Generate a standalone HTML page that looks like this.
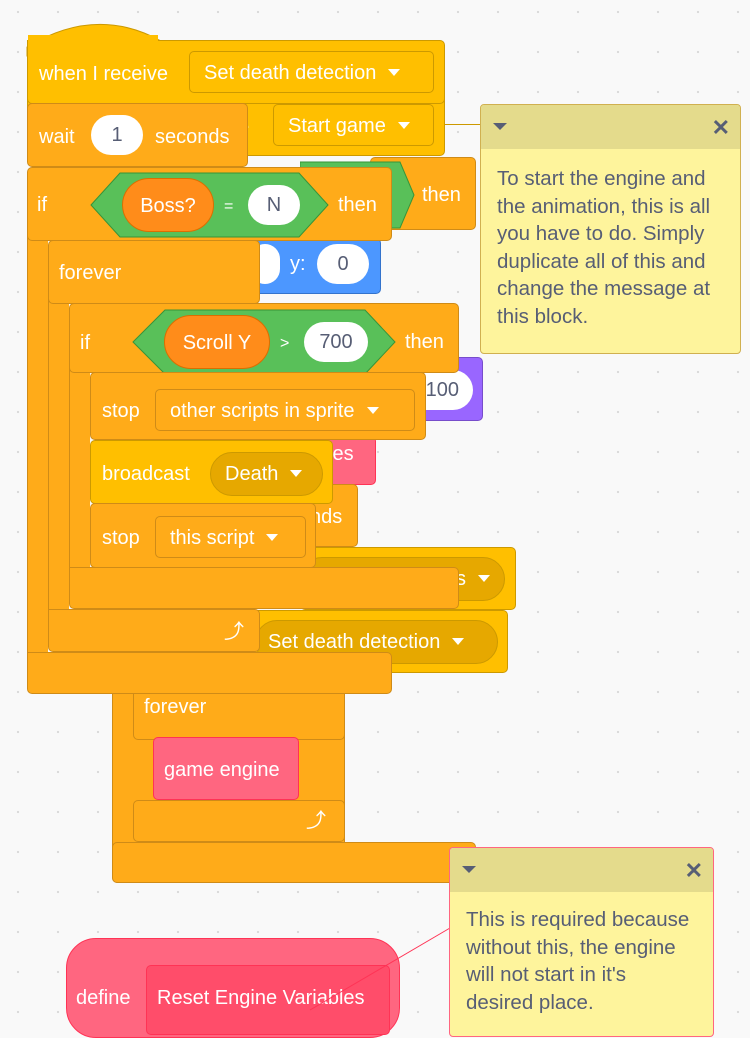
<!DOCTYPE html>
<html><head><meta charset="utf-8"><style>
body{margin:0;width:750px;height:1025px;overflow:hidden;background:#f9f9f9;
background-image:radial-gradient(circle,#d9d9d9 1px,transparent 1.3px);background-size:40px 40px;background-position:-2px -8px;
font-family:"Liberation Sans",sans-serif;position:relative}
.b{position:absolute;box-sizing:border-box;border:1px solid;border-radius:5px}
.c{background:#ffab19;border-color:#cf8b17}
.e{background:#ffbf00;border-color:#cc9900}
.p{background:#ff6680;border-color:#ff3355}
.t{position:absolute;color:#fff;font-size:20px;white-space:nowrap;line-height:22px}
.w{position:absolute;box-sizing:border-box;background:#fff;border-radius:20px;color:#575e75;font-size:20px;text-align:center;line-height:40px;height:40px}
.dd{position:absolute;box-sizing:border-box;border:1px solid;border-radius:5px;color:#fff;font-size:20px;white-space:nowrap;padding-left:14px;line-height:42px;height:42px}
.ar{display:inline-block;width:0;height:0;border-left:6px solid transparent;border-right:6px solid transparent;border-top:7px solid #fff;margin-left:12px;vertical-align:3px}
.hex{position:absolute}
.note{position:absolute;box-sizing:border-box;border:1px solid #d0b050;border-radius:4px;background:#fef49c;color:#575e75;font-size:20.5px;line-height:27.5px;white-space:nowrap;overflow:hidden}
.nh{height:44px;background:#e4db8c;position:relative}
</style></head><body>

<div class="b e" style="left:27px;top:92px;width:418px;height:64px"></div>
<div class="t" style="left:238px;top:116px">e</div>
<div class="dd" style="left:273px;top:104px;width:161px;background:#ffbf00;border-color:#cc9900">Start game<span class="ar"></span></div>
<div class="b c" style="left:370px;top:157px;width:106px;height:73px"></div>
<svg class="hex" style="left:300px;top:160px" width="115" height="70"><polygon points="0,2 100,2 114,35 100,68 0,68" fill="#59c059" stroke="#389438"/></svg>
<div class="t" style="left:422px;top:184px">then</div>
<div class="b" style="left:240px;top:238px;width:141px;height:56px;background:#4c97ff;border-color:#3373cc"></div>
<div class="w" style="left:250px;top:244px;width:30px"></div>
<div class="t" style="left:290px;top:253px">y:</div>
<div class="w" style="left:317px;top:244px;width:52px">0</div>
<div class="b" style="left:400px;top:357px;width:83px;height:64px;background:#9966ff;border-color:#774dcb"></div>
<div class="w" style="left:405px;top:370px;width:68px;text-align:right;padding-right:14px">100</div>
<div class="b p" style="left:300px;top:436px;width:76px;height:49px"></div>
<div class="t" style="left:328px;top:443px">les</div>
<div class="b c" style="left:290px;top:484px;width:68px;height:63px"></div>
<div class="t" style="left:310px;top:506px">nds</div>
<div class="b e" style="left:300px;top:547px;width:216px;height:63px"></div>
<div class="dd" style="left:300px;top:557px;width:205px;height:44px;border-radius:22px;background:#e6a800;border-color:#cc9900;text-align:right;padding-right:14px">s<span class="ar"></span></div>
<div class="b e" style="left:250px;top:610px;width:258px;height:63px"></div>
<div class="dd" style="left:255px;top:620px;width:243px;height:44px;border-radius:22px;background:#e6a800;border-color:#cc9900;padding-left:12px">Set death detection<span class="ar"></span></div>

<div class="b c" style="left:112px;top:680px;width:233px;height:203px;border-radius:6px"></div>
<div class="b c" style="left:133px;top:680px;width:212px;height:60px"></div>
<div class="t" style="left:144px;top:696px">forever</div>
<div class="b c" style="left:133px;top:800px;width:212px;height:42px"></div>
<div class="t" style="left:306px;top:810px">⤴</div>
<div class="b c" style="left:112px;top:842px;width:364px;height:41px"></div>
<div class="b p" style="left:153px;top:737px;width:146px;height:63px"></div>
<div class="t" style="left:164px;top:759px">game engine</div>

<svg style="position:absolute;left:26px;top:17px" width="140" height="40"><path d="M1,39 L1,30 Q70,-12 135,24 L139,39 Z" fill="#ffbf00" stroke="#cc9900"/></svg>
<div class="b e" style="left:27px;top:40px;width:418px;height:64px;border-top-left-radius:0"></div>
<div style="position:absolute;left:28px;top:35px;width:130px;height:10px;background:#ffbf00"></div>
<div class="t" style="left:39px;top:63px">when I receive</div>
<div class="dd" style="left:189px;top:51px;width:245px;background:#ffbf00;border-color:#cc9900">Set death detection<span class="ar"></span></div>

<div class="c" style="position:absolute;left:27px;top:230px;width:21px;height:430px;border-left:1px solid #cf8b17;box-sizing:border-box"></div>
<div class="b c" style="left:27px;top:652px;width:365px;height:42px;border-top-left-radius:0"></div>
<div class="c" style="position:absolute;left:48px;top:295px;width:21px;height:322px;border-left:1px solid #cf8b17;box-sizing:border-box"></div>
<div class="b c" style="left:48px;top:609px;width:212px;height:43px;border-top-left-radius:0"></div>
<div class="t" style="left:224px;top:621px">⤴</div>
<div class="c" style="position:absolute;left:69px;top:365px;width:21px;height:210px;border-left:1px solid #cf8b17;box-sizing:border-box"></div>
<div class="b c" style="left:69px;top:567px;width:390px;height:42px;border-top-left-radius:0"></div>

<div class="b c" style="left:27px;top:167px;width:365px;height:74px"></div>
<div class="b c" style="left:27px;top:103px;width:221px;height:64px"></div>
<div class="t" style="left:39px;top:126px">wait</div>
<div class="w" style="left:91px;top:115px;width:52px">1</div>
<div class="t" style="left:155px;top:126px">seconds</div>
<div class="t" style="left:37px;top:194px">if</div>
<svg class="hex" style="left:90px;top:172px" width="240" height="66"><polygon points="1,33 30,1 209,1 238,33 209,65 30,65" fill="#59c059" stroke="#389438"/></svg>
<div class="w" style="left:122px;top:178px;width:92px;height:54px;line-height:54px;border-radius:27px;background:#ff8c1a;color:#fff;border:1px solid #db6e00">Boss?</div>
<div class="t" style="left:224px;top:196px;font-size:16px">=</div>
<div class="w" style="left:248px;top:185px;width:52px">N</div>
<div class="t" style="left:338px;top:194px">then</div>

<div class="b c" style="left:48px;top:240px;width:212px;height:64px"></div>
<div class="t" style="left:59px;top:262px">forever</div>

<div class="b c" style="left:69px;top:303px;width:390px;height:70px"></div>
<div class="t" style="left:80px;top:332px">if</div>
<svg class="hex" style="left:132px;top:309px" width="265" height="66"><polygon points="1,33 33,1 233,1 263,33 233,65 33,65" fill="#59c059" stroke="#389438"/></svg>
<div class="w" style="left:164px;top:315px;width:106px;height:54px;line-height:54px;border-radius:27px;background:#ff8c1a;color:#fff;border:1px solid #db6e00">Scroll Y</div>
<div class="t" style="left:280px;top:333px;font-size:16px">&gt;</div>
<div class="w" style="left:304px;top:322px;width:64px">700</div>
<div class="t" style="left:405px;top:331px">then</div>

<div class="b c" style="left:90px;top:372px;width:336px;height:68px"></div>
<div class="t" style="left:102px;top:400px">stop</div>
<div class="dd" style="left:155px;top:389px;width:260px;background:#ffab19;border-color:#cf8b17">other scripts in sprite<span class="ar"></span></div>
<div class="b e" style="left:90px;top:440px;width:243px;height:64px"></div>
<div class="t" style="left:102px;top:463px">broadcast</div>
<div class="dd" style="left:210px;top:452px;width:113px;height:44px;border-radius:22px;background:#e6a800;border-color:#cc9900">Death<span class="ar"></span></div>
<div class="b c" style="left:90px;top:503px;width:226px;height:65px"></div>
<div class="t" style="left:102px;top:527px">stop</div>
<div class="dd" style="left:155px;top:516px;width:151px;background:#ffab19;border-color:#cf8b17">this script<span class="ar"></span></div>

<div class="b p" style="left:66px;top:938px;width:334px;height:100px;border-radius:30px"></div>
<div class="b" style="left:146px;top:965px;width:244px;height:70px;background:#ff4d6a;border-color:#ff3355"></div>
<div class="t" style="left:76px;top:987px">define</div>
<div class="t" style="left:157px;top:987px">Reset Engine Variables</div>

<div style="position:absolute;left:445px;top:124px;width:36px;height:1px;background:#cc9900"></div>
<div class="note" style="left:480px;top:104px;width:261px;height:250px">
<div class="nh"><span style="position:absolute;left:12px;top:18px;border-left:7px solid transparent;border-right:7px solid transparent;border-top:7px solid #575e75"></span><span style="position:absolute;right:10px;top:9px;font-size:22px;font-weight:bold">✕</span></div>
<div style="padding:16px 0 0 16px">To start the engine and<br>the animation, this is all<br>you have to do. Simply<br>duplicate all of this and<br>change the message at<br>this block.</div></div>

<svg style="position:absolute;left:0;top:0" width="750" height="1025"><line x1="310" y1="1010" x2="450" y2="928" stroke="#ff3355" stroke-width="1"/></svg>
<div class="note" style="left:449px;top:847px;width:265px;height:190px;border-color:#ff6680">
<div class="nh"><span style="position:absolute;left:12px;top:18px;border-left:7px solid transparent;border-right:7px solid transparent;border-top:7px solid #575e75"></span><span style="position:absolute;right:10px;top:9px;font-size:22px;font-weight:bold">✕</span></div>
<div style="padding:14px 0 0 16px">This is required because<br>without this, the engine<br>will not start in it's<br>desired place.</div></div>
</body></html>
